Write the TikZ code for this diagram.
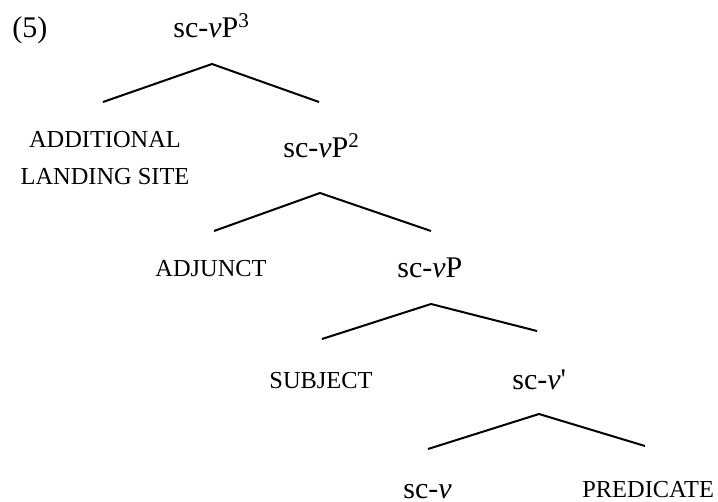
\documentclass[tikz,border=0pt]{standalone}
\usepackage{fontspec}
\setmainfont{Liberation Serif}
\newfontfamily\rawserif{Liberation Serif}
\usepackage{tikz}
\newcommand{\scv}{sc-\textit{v}}

\begin{document}
\begin{tikzpicture} [
        x=0.5pt, y=-0.5pt,
        cat/.style={inner sep=0pt, anchor=base west, font=\fontsize{15}{18}\selectfont},
        term/.style={inner sep=0pt, anchor=base, font=\fontsize{12.2}{18.5}\selectfont, align=center},
        branch/.style={line width=1pt}
    ]
        \useasboundingbox (0, 0) rectangle (718, 502);

        % labels
        \node [cat] (ex)    at (12, 38)   {(5)};
        \node [cat] (vp3)   at (173, 38)  {\scv P\textsuperscript{3}};
        \node [term] (land) at (105, 185) {ADDITIONAL\\LANDING SITE};
        \node [cat] (vp2)   at (283, 158) {\scv P\textsuperscript{2}};
        \node [term] (adj)  at (211, 277) {ADJUNCT};
        \node [cat] (vp)    at (397, 278) {\scv P};
        \node [term] (subj) at (321, 388) {SUBJECT};
        \node [cat] (vbar)  at (512, 390) {\scv{\rawserif'}};
        \node [cat] (v)     at (403, 498) {\scv};
        \node [cat, font=\fontsize{12.2}{18.5}\selectfont] (pred) at (582, 497) {PREDICATE};

        % branches
        \foreach \i/\ax/\ay/\lx/\ly/\rx/\ry in {1/212/64/103/102/319/102, 2/320/193/214/231/431/231,
                                                 3/431/304/322/339/537/331, 4/539/414/428/449/645/446} {
            \coordinate (b\i) at (\ax, \ay);
            \coordinate (b\i l) at (\lx, \ly);
            \coordinate (b\i r) at (\rx, \ry);
            \draw [branch] (b\i l) -- (b\i) -- (b\i r);
        }
    \end{tikzpicture}
\end{document}
